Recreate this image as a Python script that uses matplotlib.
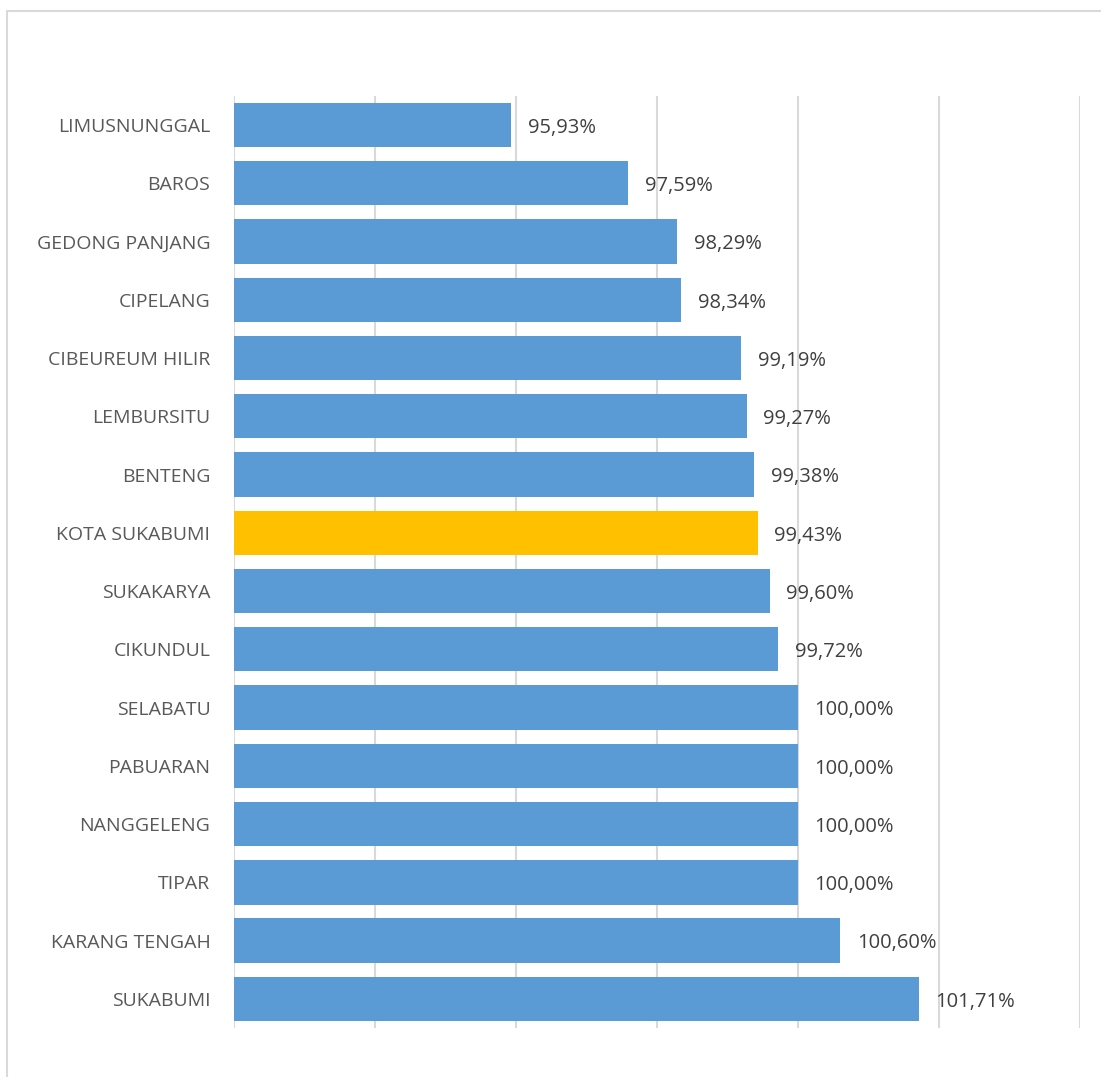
import matplotlib
matplotlib.use('Agg')

import matplotlib.pyplot as plt
from matplotlib.patches import Rectangle

# Data (top to bottom as shown)
regions = ["LIMUSNUNGGAL", "BAROS", "GEDONG PANJANG", "CIPELANG", "CIBEUREUM HILIR",
           "LEMBURSITU", "BENTENG", "KOTA SUKABUMI", "SUKAKARYA", "CIKUNDUL",
           "SELABATU", "PABUARAN", "NANGGELENG", "TIPAR", "KARANG TENGAH", "SUKABUMI"]
values = [95.93, 97.59, 98.29, 98.34, 99.19, 99.27, 99.38, 99.43, 99.60, 99.72,
          100.00, 100.00, 100.00, 100.00, 100.60, 101.71]
highlight = "KOTA SUKABUMI"

blue = "#5B9BD5"
gold = "#FFC000"
label_color = "#595959"
value_color = "#404040"

plt.rcParams['font.family'] = ['Open Sans', 'DejaVu Sans']

fig = plt.figure(figsize=(11.01, 10.77), dpi=100, facecolor="white")
ax = fig.add_axes([0.2125, 0.0455, 0.7684, 0.8654])

# Outer chart frame (partly cropped on right/bottom like the original)
fig.patches.append(Rectangle((7 / 1101, -0.01), 1.2, 1 - 11 / 1077 + 0.01,
                             transform=fig.transFigure, fill=False,
                             edgecolor="#D9D9D9", linewidth=1.5))

y = list(range(len(regions)))
colors = [gold if r == highlight else blue for r in regions]
ax.barh(y, [v - 92 for v in values], left=92, height=0.76, color=colors, zorder=2)

for yi, v in zip(y, values):
    label = f"{v:.2f}".replace(".", ",") + "%"
    ax.annotate(label, xy=(v, yi), xytext=(12, -2), textcoords="offset points",
                va="center", ha="left", fontsize=14.5, color=value_color)

ax.set_xlim(92, 104)
ax.set_ylim(len(regions) - 0.5, -0.5)
ax.set_xticks([92, 94, 96, 98, 100, 102, 104])
ax.set_xticklabels([])
ax.tick_params(axis="x", length=0)
ax.set_yticks(y)
ax.set_yticklabels(regions, fontsize=14, color=label_color)
ax.tick_params(axis="y", length=0, pad=17)
ax.grid(axis="x", color="#D9D9D9", linewidth=1.5, zorder=0)
ax.set_axisbelow(True)
for s in ax.spines.values():
    s.set_visible(False)

plt.savefig("out.png", dpi=100, facecolor="white")
plt.close()
